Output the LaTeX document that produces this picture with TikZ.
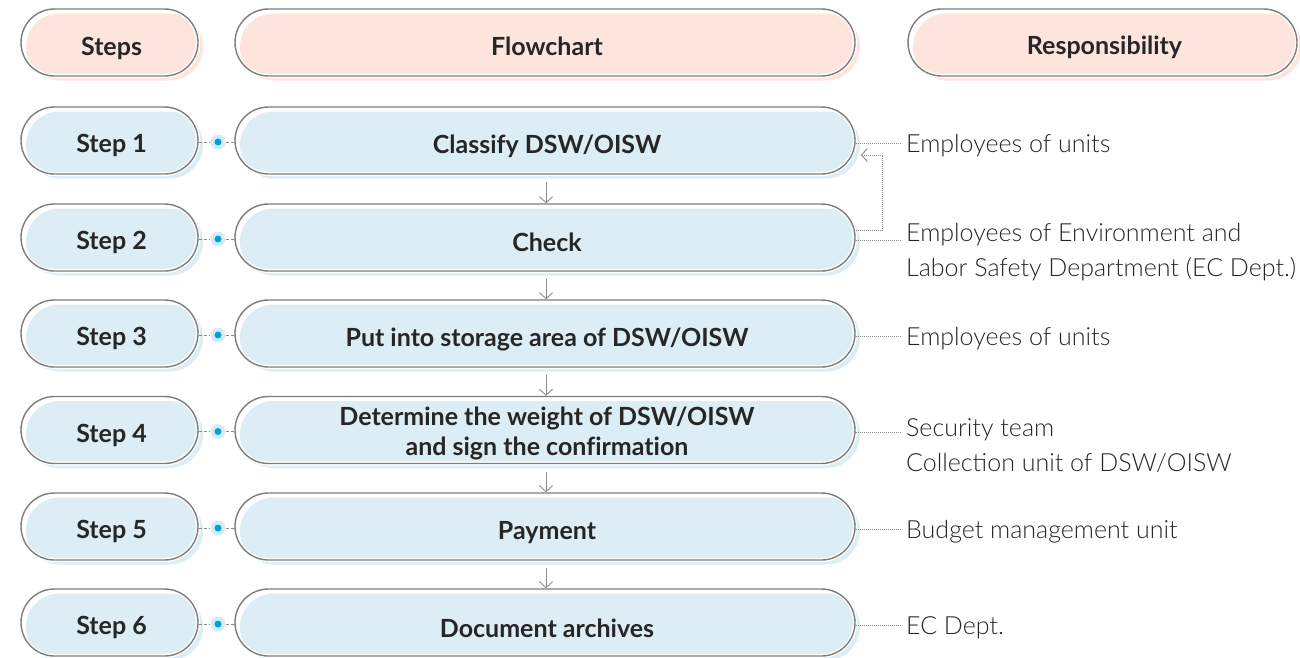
\documentclass[tikz,border=0pt]{standalone}
\usepackage{fontspec}
\setmainfont{Lato}[Ligatures=NoCommon]
\newfontfamily\lightfont{Lato Light}
\usetikzlibrary{shadows,arrows.meta,calc}
\definecolor{pinkF}{RGB}{253,229,222}
\definecolor{blueF}{RGB}{221,237,245}
\definecolor{strokeC}{RGB}{125,125,125}
\definecolor{txtC}{RGB}{38,38,38}
\definecolor{dotC}{RGB}{0,160,220}
\definecolor{haloC}{RGB}{212,236,247}
\definecolor{lineC}{RGB}{140,140,140}
\tikzset{
  pill/.style={rounded corners=33.5pt, minimum height=67pt, inner sep=0pt,
    draw=strokeC, line width=1.4pt},
  pinkpill/.style={pill, drop shadow={shadow xshift=5pt, shadow yshift=-4.5pt, fill=pinkF, opacity=1},
    preaction={draw=white, line width=4pt}},
  bluepill/.style={pill, drop shadow={shadow xshift=5pt, shadow yshift=-4.5pt, fill=blueF, opacity=1},
    preaction={draw=white, line width=4pt}},
  ptext/.style={inner sep=0pt, text=txtC, align=center,
    font=\fontsize{25}{30}\selectfont\bfseries},
  halo/.style={circle, fill=haloC, minimum size=15pt, inner sep=0pt},
  dotc/.style={circle, fill=dotC, minimum size=7pt, inner sep=0pt},
  dashc/.style={draw=lineC, line width=0.8pt, dash pattern=on 3pt off 2pt},
  dotline/.style={draw=lineC, line width=0.8pt, dash pattern=on 1pt off 1pt},
  flowarrow/.style={draw=lineC, line width=0.9pt, -{Straight Barb[length=6pt,width=13pt]}},
  resp/.style={anchor=west, inner sep=0pt, text=txtC, align=left,
    font=\lightfont\fontsize{25}{35}\selectfont},
}
\begin{document}
\begin{tikzpicture}[x=1pt,y=-1pt]
\useasboundingbox (0,0) rectangle (1300,657);
% headers
\node[pinkpill, minimum width=177pt] (hs) at (109.5,42.5) {};
\node[pinkpill, minimum width=620pt] (hf) at (545,42.5) {};
\node[pinkpill, minimum width=389pt] (hr) at (1102.5,42.5) {};
\node[ptext] (hst) at ($(hs)+(2,6)$) {Steps};
\node[ptext] (hft) at ($(hf)+(2,4)$) {Flowchart};
\node[ptext] (hrt) at ($(hr)+(2,5)$) {Responsibility};
% rows
\foreach \i/\y/\st/\ft/\fs in {1/140.5/Step 1/{Classify DSW/OISW}/6,
  2/237.5/Step 2/Check/5,
  3/333.5/Step 3/{Put into storage area of DSW/OISW}/6,
  4/430/Step 4/{Determine the weight of DSW/OISW\\and sign the confirmation}/3,
  5/526.5/Step 5/Payment/6,
  6/622.5/Step 6/{Document archives}/6}{
  \node[bluepill, minimum width=177pt] (s\i) at (109.5,\y) {};
  \node[bluepill, minimum width=620pt] (f\i) at (545,\y) {};
  \node[ptext] (st\i) at ($(s\i)+(2,5)$) {\st};
  \node[ptext] (ft\i) at ($(f\i)+(2,\fs)$) {\ft};
  \node[halo] (d\i) at (218,\y+1.5) {};
  \node[dotc] at (d\i) {};
  \draw[dashc] (s\i.east |- d\i) -- (d\i.west);
  \draw[dashc] (d\i.east) -- (f\i.west |- d\i);
  \coordinate (r\i) at (900,\y+2.5);
  \draw[dotline] (f\i.east |- r\i) -- (r\i);
}
% flow arrows
\foreach \a/\b in {1/2,2/3,3/4,4/5,5/6}{
  \draw[flowarrow] ($(f\a.south)+(1,7.5)$) -- ($(f\b.north)+(1,0)$);
}
% feedback
\coordinate (fbA) at ($(f2.east)+(0,-7.5)$);
\coordinate (fbB) at ($(f1.east)+(27,14.5)$);
\coordinate (fbC) at ($(f1.east)+(5,14.5)$);
\draw[dotline] (fbA) -- (fbA -| fbB) -- (fbB) -- (fbC);
\draw[draw=lineC, line width=0.9pt, -{Straight Barb[length=6pt,width=13pt]}] ($(fbC)+(2,0)$) -- (fbC);
% responsibilities
\node[resp] (t1) at ($(r1)+(6,3)$) {Employees of units};
\node[resp] (t2) at ($(r2)+(6,12)$) {Employees of Environment and\\Labor Safety Department (EC Dept.)};
\node[resp] (t3) at ($(r3)+(6,3)$) {Employees of units};
\node[resp] (t4) at ($(r4)+(6,13)$) {Security team\\Collection unit of DSW/OISW};
\node[resp] (t5) at ($(r5)+(6,3)$) {Budget management unit};
\node[resp] (t6) at ($(r6)+(6,3)$) {EC Dept.};
\end{tikzpicture}
\end{document}
